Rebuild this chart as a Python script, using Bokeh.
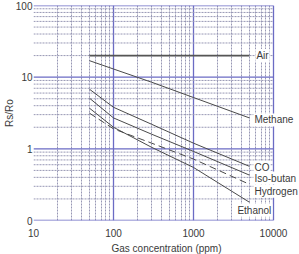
from bokeh.plotting import figure
from bokeh.models import FixedTicker, CustomJSTickFormatter, Label, Title
from bokeh.embed import file_html
from bokeh.resources import INLINE

# Sensor resistance ratio Rs/Ro versus gas concentration (ppm)
air_ppm = [50, 5000]
air_ratio = [20, 20]

gas_ppm = [50, 100, 300, 1000, 5000]
methane_ratio = [17, 13, 8.5, 5.2, 2.7]
co_ratio = [6.8, 3.8, 2.2, 1.2, 0.57]
isobutane_ratio = [5.1, 2.7, 1.6, 0.92, 0.43]
hydrogen_ratio = [3.15, 1.9, 1.2, 0.72, 0.32]
ethanol_ratio = [3.7, 2.0, 1.05, 0.55, 0.18]

x_major = [10, 100, 1000, 10000]
x_minor = [m * d for d in (10, 100, 1000) for m in range(2, 10)]
y_major = [0.1, 1, 10, 100]
y_minor = [m * d for d in (0.1, 1, 10) for m in range(2, 10)]

FONT = "Liberation Sans"
TXT = "#3a3a3a"
INK = "#4a4a4a"
BLUE = "#6b6bc4"
MINOR = "#9797b4"

# The frame runs past 10000 so the curve names can sit outside the grid box.
p = figure(width=299, height=254, x_axis_type="log", y_axis_type="log",
           x_range=(10, 21135), y_range=(0.1, 100),
           output_backend="svg", toolbar_location=None)
p.min_border_left = 33
p.min_border_right = 0
p.min_border_top = 5
p.min_border_bottom = 34
p.outline_line_color = None

p.xaxis.ticker = FixedTicker(ticks=x_major, minor_ticks=x_minor)
p.yaxis.ticker = FixedTicker(ticks=y_major, minor_ticks=y_minor)
p.xaxis.formatter = CustomJSTickFormatter(code="return String(Math.round(tick));")
p.yaxis.formatter = CustomJSTickFormatter(
    code="return tick < 0.5 ? '0' : String(Math.round(tick));")

for ax in (p.xaxis, p.yaxis):
    ax.axis_line_color = None
    ax.major_tick_line_color = None
    ax.minor_tick_line_color = None
    ax.major_tick_out = 0
    ax.minor_tick_out = 0
    ax.major_tick_in = 0
    ax.minor_tick_in = 0
    ax.major_label_text_font = FONT
    ax.major_label_text_font_size = "10px"
    ax.major_label_text_color = TXT
    ax.axis_label_text_font = FONT
    ax.axis_label_text_font_size = "10px"
    ax.axis_label_text_font_style = "normal"
    ax.axis_label_text_color = TXT

p.xaxis.major_label_standoff = 8
p.yaxis.axis_label = "Rs/Ro"
p.yaxis.major_label_standoff = 1
p.yaxis.axis_label_standoff = -2

# x-axis title, centred under the 10..10000 box rather than the whole frame
p.add_layout(Title(text="Gas concentration (ppm)", align="center", offset=-13,
                   text_font=FONT, text_font_size="10px", text_font_style="normal",
                   text_color=TXT, standoff=2), "below")

# vertical grid: decades solid, intermediate values dashed
p.xgrid.grid_line_color = BLUE
p.xgrid.grid_line_width = 1.3
p.xgrid.minor_grid_line_color = MINOR
p.xgrid.minor_grid_line_dash = "2 1"

# horizontal grid lines only across the 10..10000 box
p.ygrid.visible = False
x_lo, x_hi = x_major[0], x_major[-1]
p.segment(x0=x_lo, x1=x_hi, y0=y_minor, y1=y_minor,
          line_color=MINOR, line_width=1, line_dash="2 1")
p.segment(x0=x_lo, x1=x_hi, y0=y_major, y1=y_major,
          line_color=BLUE, line_width=1.3)

p.line(air_ppm, air_ratio, line_color="#555555", line_width=1.6)
p.line(gas_ppm, methane_ratio, line_color=INK, line_width=1)
p.line(gas_ppm, co_ratio, line_color=INK, line_width=1)
p.line(gas_ppm, isobutane_ratio, line_color=INK, line_width=1)
p.line(gas_ppm, hydrogen_ratio, line_color=INK, line_width=1, line_dash="7 4")
p.line(gas_ppm, ethanol_ratio, line_color=INK, line_width=1)

# Curve names next to the right-hand ends
names = [
    ("Air", air_ppm[-1], air_ratio[-1], 6, 0),
    ("Methane", gas_ppm[-1], methane_ratio[-1], 4, -2),
    ("CO", gas_ppm[-1], co_ratio[-1], 4, -1),
    ("Iso-butan", gas_ppm[-1], isobutane_ratio[-1], 4, -3),
    ("Hydrogen", gas_ppm[-1], hydrogen_ratio[-1], 4, -7),
    ("Ethanol", gas_ppm[-1], ethanol_ratio[-1], -13, -8),
]
for text, x, y, dx, dy in names:
    p.add_layout(Label(x=x, y=y, x_offset=dx, y_offset=dy, text=text,
                       text_font=FONT, text_font_size="10px", text_color=TXT,
                       text_baseline="middle", text_align="left",
                       background_fill_color="white", padding=1))

open("out.html", "w").write(file_html(p, INLINE))
